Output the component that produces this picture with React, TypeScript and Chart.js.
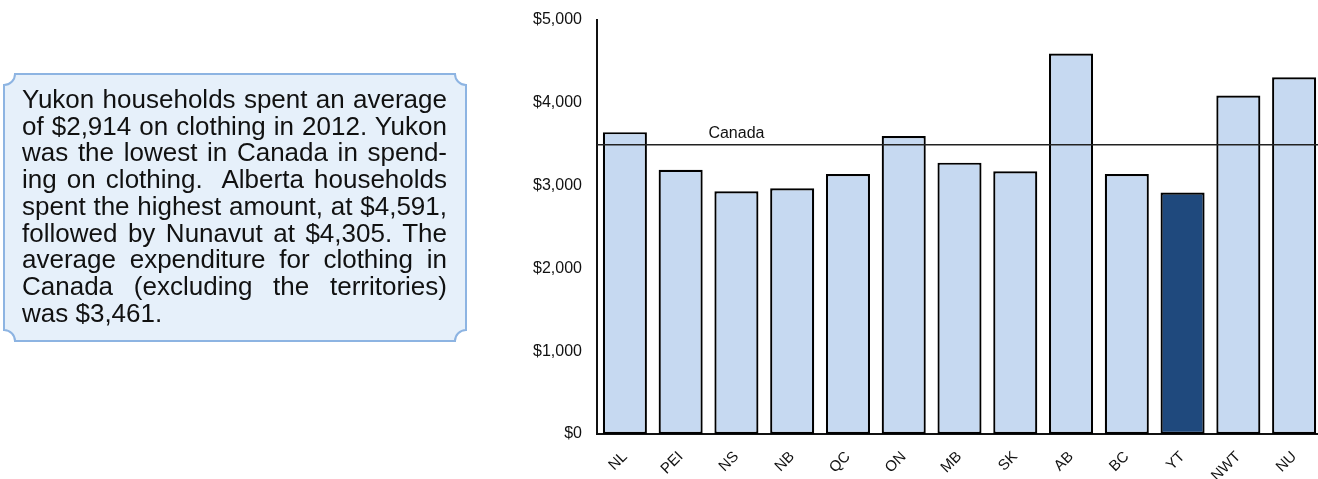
import React, { useEffect, useRef } from "react";
import { Chart, registerables } from "chart.js";

Chart.register(...registerables);

const categories = ["NL", "PEI", "NS", "NB", "QC", "ON", "MB", "SK", "AB", "BC", "YT", "NWT", "NU"];
const spending = [3642, 3189, 2928, 2964, 3137, 3595, 3274, 3169, 4591, 3137, 2914, 4085, 4305];
const highlighted = "YT";
const canadaAverage = 3490;
const canadaLabel = "Canada";
const canadaLabelCategory = "NS";
const yTicks = [0, 1000, 2000, 3000, 4000, 5000];
const textLines = [
  "Yukon households spent an average",
  "of $2,914 on clothing in 2012. Yukon",
  "was the lowest in Canada in spend-",
  "ing on clothing.  Alberta households",
  "spent the highest amount, at $4,591,",
  "followed by Nunavut at $4,305. The",
  "average expenditure for clothing in",
  "Canada (excluding the territories)",
  "was $3,461.",
];

const FONT = "'Liberation Sans', Arial, sans-serif";

const canadaLinePlugin = {
  id: "canadaLine",
  afterDatasetsDraw(chart: any) {
    const { ctx, chartArea, scales } = chart;
    const y = scales.y.getPixelForValue(canadaAverage);
    ctx.save();
    ctx.strokeStyle = "#222";
    ctx.lineWidth = 1.6;
    ctx.beginPath();
    ctx.moveTo(chartArea.left, y);
    ctx.lineTo(chartArea.right, y);
    ctx.stroke();
    const x = scales.x.getPixelForValue(categories.indexOf(canadaLabelCategory));
    ctx.font = `16px ${FONT}`;
    ctx.fillStyle = "#111";
    ctx.textAlign = "center";
    ctx.textBaseline = "alphabetic";
    ctx.fillText(canadaLabel, x, y - 6.5);
    ctx.restore();
  },
};

function TextBox() {
  const x1 = 4, y1 = 74, x2 = 466, y2 = 341, r = 11;
  const d = `M ${x1 + r} ${y1} L ${x2 - r} ${y1} A ${r} ${r} 0 0 0 ${x2} ${y1 + r} L ${x2} ${y2 - r} A ${r} ${r} 0 0 0 ${x2 - r} ${y2} L ${x1 + r} ${y2} A ${r} ${r} 0 0 0 ${x1} ${y2 - r} L ${x1} ${y1 + r} A ${r} ${r} 0 0 0 ${x1 + r} ${y1} Z`;
  return (
    <>
      <svg style={{ position: "fixed", left: 0, top: 0 }} width={480} height={360}>
        <path d={d} fill="#e6f0fa" stroke="#8db4e2" strokeWidth={2} />
      </svg>
      <div
        style={{
          position: "fixed",
          left: 22,
          top: 86,
          width: 425,
          fontFamily: FONT,
          fontSize: 26,
          lineHeight: "26.7px",
          color: "#111",
        }}
      >
        {textLines.map((line, i) => (
          <div
            key={i}
            style={{
              textAlign: "justify",
              textAlignLast: i === textLines.length - 1 ? "left" : "justify",
              whiteSpace: "pre-wrap",
            } as any}
          >
            {line}
          </div>
        ))}
      </div>
    </>
  );
}

export default function App() {
  const ref = useRef<HTMLCanvasElement | null>(null);

  useEffect(() => {
    if (!ref.current) return;
    const chart = new Chart(ref.current, {
      type: "bar",
      data: {
        labels: categories,
        datasets: [
          {
            data: spending,
            backgroundColor: categories.map((c) => (c === highlighted ? "#1f497d" : "#c6d9f1")),
            borderColor: "#000",
            borderWidth: 2.2,
            borderSkipped: false,
            barPercentage: 0.79,
            categoryPercentage: 1,
          },
        ],
      },
      options: {
        animation: false,
        responsive: false,
        layout: { padding: { top: 14, right: 0, left: 0, bottom: 0 } },
        plugins: { legend: { display: false }, tooltip: { enabled: false } },
        scales: {
          x: {
            grid: { display: false, drawTicks: false },
            border: { display: true, color: "#111", width: 2 },
            ticks: {
              minRotation: 45,
              maxRotation: 45,
              padding: 14,
              color: "#111",
              font: { family: FONT, size: 15 },
            },
            afterFit: (s: any) => {
              s.height = 45;
            },
          },
          y: {
            min: 0,
            max: 5000,
            grid: { display: false, drawTicks: false },
            border: { display: true, color: "#111", width: 2 },
            afterBuildTicks: (s: any) => {
              s.ticks = yTicks.map((v) => ({ value: v }));
            },
            ticks: {
              padding: 15,
              color: "#111",
              font: { family: FONT, size: 16 },
              callback: (v: any) => "$" + Number(v).toLocaleString("en-US"),
            },
            afterFit: (s: any) => {
              s.width = 97;
            },
          },
        },
      },
      plugins: [canadaLinePlugin],
    });
    return () => chart.destroy();
  }, []);

  return (
    <>
      <TextBox />
      <div style={{ position: "fixed", left: 500, top: 0, width: 818, height: 479, overflow: "hidden" }}>
        <canvas
          ref={ref}
          width={822}
          height={484}
          style={{ width: 822, height: 484, display: "block", marginTop: -5 }}
        />
      </div>
    </>
  );
}
